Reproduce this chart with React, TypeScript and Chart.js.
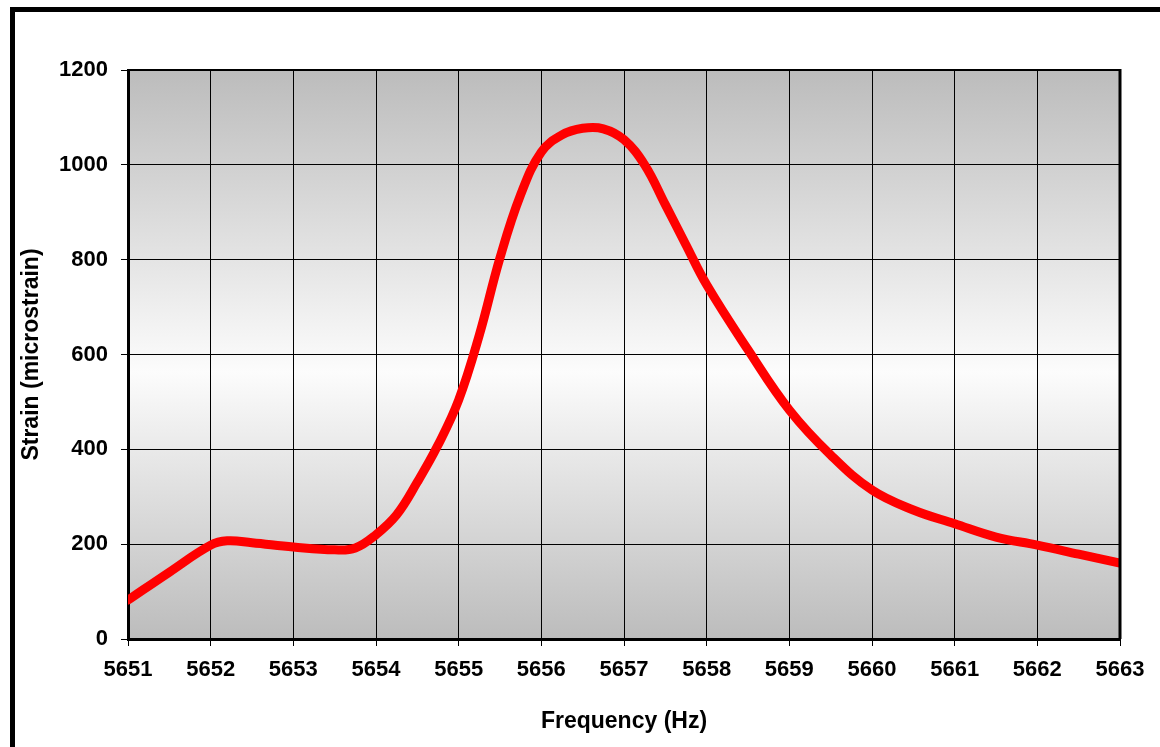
import React, { useEffect, useRef } from "react";
import { Chart, registerables } from "chart.js";

Chart.register(...registerables);

const frequencies = [
  5651, 5651.5, 5652, 5652.2, 5652.5, 5653, 5653.5, 5653.75, 5654, 5654.25, 5654.5, 5654.75,
  5655, 5655.25, 5655.5, 5655.75, 5656, 5656.25, 5656.5, 5656.75, 5657, 5657.25, 5657.5,
  5657.75, 5658, 5658.5, 5659, 5659.5, 5660, 5660.5, 5661, 5661.5, 5662, 5662.5, 5663,
];
const strain = [
  82, 141, 198, 207, 203, 194, 188, 192, 220, 262, 331, 409,
  504, 641, 804, 937, 1027, 1063, 1077, 1076, 1053, 1000, 916,
  831, 747, 610, 483, 388, 314, 272, 243, 215, 198, 179, 160,
];
const xTitle = "Frequency (Hz)";
const yTitle = "Strain (microstrain)";
const xMin = 5651;
const xMax = 5663;
const yMin = 0;
const yMax = 1200;
const yStep = 200;

const FONT = "'Liberation Sans', Arial, sans-serif";

const plotPlugin = {
  id: "plotDecor",
  beforeDraw(chart: any) {
    const { ctx, chartArea } = chart;
    if (!chartArea) return;
    const g = ctx.createLinearGradient(0, chartArea.top, 0, chartArea.bottom);
    g.addColorStop(0, "rgb(188,188,188)");
    g.addColorStop(0.53, "rgb(252,252,252)");
    g.addColorStop(1, "rgb(188,188,188)");
    ctx.save();
    ctx.fillStyle = g;
    ctx.fillRect(chartArea.left, chartArea.top, chartArea.right - chartArea.left, chartArea.bottom - chartArea.top);
    ctx.restore();
  },
  afterDatasetsDraw(chart: any) {
    const { ctx, chartArea } = chart;
    ctx.save();
    ctx.strokeStyle = "#000";
    ctx.lineWidth = 2;
    ctx.beginPath();
    ctx.moveTo(chartArea.left, chartArea.top);
    ctx.lineTo(chartArea.right, chartArea.top);
    ctx.stroke();
    ctx.lineWidth = 3;
    ctx.beginPath();
    ctx.moveTo(chartArea.right, chartArea.top - 1);
    ctx.lineTo(chartArea.right, chartArea.bottom);
    ctx.stroke();
    ctx.restore();
  },
};

export default function App() {
  const ref = useRef<HTMLCanvasElement | null>(null);

  useEffect(() => {
    document.body.style.margin = "0";
    document.body.style.background = "#fff";
    const canvas = ref.current;
    if (!canvas) return;
    const chart = new Chart(canvas, {
      type: "line",
      data: {
        datasets: [
          {
            data: frequencies.map((f, i) => ({ x: f, y: strain[i] })),
            borderColor: "#ff0000",
            borderWidth: 9,
            pointRadius: 0,
            tension: 0.4,
            fill: false,
            borderCapStyle: "round",
            borderJoinStyle: "round",
          },
        ],
      },
      options: {
        animation: false,
        responsive: false,
        devicePixelRatio: 1,
        layout: { padding: { left: 0, top: 70, right: 40, bottom: 0 } },
        plugins: { legend: { display: false }, tooltip: { enabled: false } },
        scales: {
          x: {
            type: "linear",
            min: xMin,
            max: xMax,
            afterFit: (s: any) => {
              s.height = 108;
            },
            ticks: {
              stepSize: 1,
              color: "#000",
              padding: 11,
              maxRotation: 0,
              font: { family: FONT, size: 22, weight: "bold" },
              callback: (v: any) => String(v),
            },
            grid: { color: "#000", lineWidth: 1, tickLength: 7, tickColor: "#000" },
            border: { display: true, color: "#000", width: 3 },
            title: {
              display: true,
              text: xTitle,
              color: "#000",
              font: { family: FONT, size: 23, weight: "bold" },
              padding: { top: 0, bottom: 12 },
            },
          },
          y: {
            type: "linear",
            min: yMin,
            max: yMax,
            afterFit: (s: any) => {
              s.width = 128;
            },
            ticks: {
              stepSize: yStep,
              color: "#000",
              padding: 13,
              font: { family: FONT, size: 22, weight: "bold" },
              callback: (v: any) => String(v),
            },
            grid: { color: "#000", lineWidth: 1, tickLength: 7, tickColor: "#000" },
            border: { display: true, color: "#000", width: 3 },
            title: {
              display: true,
              text: yTitle,
              color: "#000",
              font: { family: FONT, size: 23, weight: "bold" },
              padding: { top: 18, bottom: 0 },
            },
          },
        },
      },
      plugins: [plotPlugin],
    });
    return () => chart.destroy();
  }, []);

  return (
    <div style={{ position: "relative", width: 1160, height: 747, background: "#fff", overflow: "hidden" }}>
      <canvas ref={ref} width={1160} height={747} style={{ position: "absolute", left: 0, top: 0 }} />
      <div style={{ position: "absolute", left: 10, top: 7, width: 1150, height: 5, background: "#000" }} />
      <div style={{ position: "absolute", left: 10, top: 7, width: 5, height: 740, background: "#000" }} />
    </div>
  );
}
